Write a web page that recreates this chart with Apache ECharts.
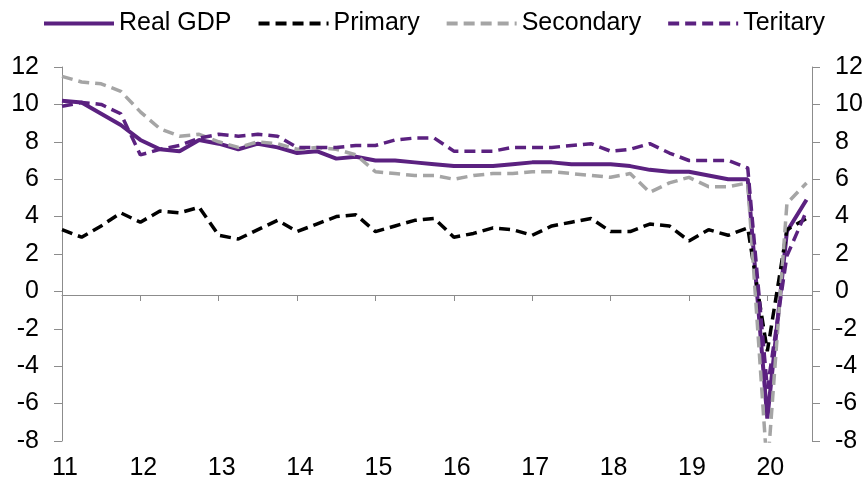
<!DOCTYPE html>
<html>
<head>
    <meta charset="utf-8">
    <title>Real GDP by sector</title>
    <script src="https://cdn.jsdelivr.net/npm/echarts/dist/echarts.min.js"></script>
    <style>
        html, body {
            margin: 0;
            padding: 0;
            background: #fff;
        }

        #chart {
            width: 867px;
            height: 486px;
        }
    </style>
</head>

<body>
<div id="chart"></div>

<script type="text/javascript">

    /* quarterly, 2011Q1 - 2020Q3, % y/y */
    var quarters = ['11Q1', '11Q2', '11Q3', '11Q4', '12Q1', '12Q2', '12Q3', '12Q4',
        '13Q1', '13Q2', '13Q3', '13Q4', '14Q1', '14Q2', '14Q3', '14Q4',
        '15Q1', '15Q2', '15Q3', '15Q4', '16Q1', '16Q2', '16Q3', '16Q4',
        '17Q1', '17Q2', '17Q3', '17Q4', '18Q1', '18Q2', '18Q3', '18Q4',
        '19Q1', '19Q2', '19Q3', '19Q4', '20Q1', '20Q2', '20Q3'];

    var yearLabels = ['11', '12', '13', '14', '15', '16', '17', '18', '19', '20'];

    var realGdp = [10.2, 10.1, 9.5, 8.9, 8.1, 7.6, 7.5, 8.1,
        7.9, 7.6, 7.9, 7.7, 7.4, 7.5, 7.1, 7.2,
        7.0, 7.0, 6.9, 6.8, 6.7, 6.7, 6.7, 6.8,
        6.9, 6.9, 6.8, 6.8, 6.8, 6.7, 6.5, 6.4,
        6.4, 6.2, 6.0, 6.0, -6.8, 3.2, 4.9];

    var primary = [3.3, 2.9, 3.5, 4.2, 3.7, 4.3, 4.2, 4.5,
        3.0, 2.8, 3.3, 3.8, 3.2, 3.6, 4.0, 4.1,
        3.2, 3.5, 3.8, 3.9, 2.9, 3.1, 3.4, 3.3,
        3.0, 3.5, 3.7, 3.9, 3.2, 3.2, 3.6, 3.5,
        2.7, 3.3, 3.0, 3.4, -3.2, 3.3, 3.9];

    var secondary = [11.5, 11.2, 11.1, 10.7, 9.6, 8.7, 8.3, 8.4,
        8.0, 7.7, 8.0, 7.9, 7.6, 7.7, 7.6, 7.3,
        6.4, 6.3, 6.2, 6.2, 6.0, 6.2, 6.3, 6.3,
        6.4, 6.4, 6.3, 6.2, 6.1, 6.3, 5.3, 5.8,
        6.1, 5.6, 5.6, 5.8, -9.6, 4.7, 5.8];

    var tertiary = [9.9, 10.1, 10.0, 9.5, 7.3, 7.6, 7.8, 8.2,
        8.4, 8.3, 8.4, 8.3, 7.7, 7.7, 7.7, 7.8,
        7.8, 8.1, 8.2, 8.2, 7.5, 7.5, 7.5, 7.7,
        7.7, 7.7, 7.8, 7.9, 7.5, 7.6, 7.9, 7.4,
        7.0, 7.0, 7.0, 6.6, -5.2, 1.9, 4.3];

    var yTicks = {min: -8, max: 12, step: 2};

    var purple = '#5b2180';
    var grey = '#a5a5a5';
    var axisGrey = '#8c8c8c';
    var font = '"Liberation Sans", Arial, sans-serif';

    // [quarter index, value] pairs for the value x axis
    function toPoints(values) {
        return values.map(function (v, i) {
            return [quarters.indexOf(quarters[i]), v];
        });
    }

    var xMax = 38.28;   // plot runs a little past 2020Q3

    var yAxisBase = {
        type: 'value',
        min: yTicks.min,
        max: yTicks.max,
        interval: yTicks.step,
        axisLine: {show: true, onZero: false, lineStyle: {color: axisGrey, width: 1}},
        axisTick: {show: true, length: 8, lineStyle: {color: axisGrey}},
        axisLabel: {fontSize: 25, color: '#000', margin: 23, fontFamily: font},
        splitLine: {show: false}
    };

    var myChart = echarts.init(document.getElementById('chart'));

    myChart.setOption({
        animation: false,
        backgroundColor: '#fff',
        textStyle: {fontFamily: font},
        grid: {
            left: 62,
            right: 55,
            top: 67,
            bottom: 45
        },
        legend: {
            left: 37,
            top: 6,
            itemWidth: 70,
            itemHeight: 14,
            itemGap: 25,
            itemStyle: {opacity: 0},   // line only, no marker
            lineStyle: {width: 4},
            textStyle: {fontSize: 25, color: '#000', fontFamily: font},
            data: ['Real GDP', 'Primary', 'Secondary', 'Teritary']
        },
        xAxis: [
            {
                // year labels along the bottom
                type: 'value',
                position: 'bottom',
                min: 0,
                max: xMax,
                interval: 4,
                axisLine: {show: false, onZero: false},
                axisTick: {show: false},
                splitLine: {show: false},
                axisLabel: {
                    fontSize: 25,
                    color: '#000',
                    margin: 15,
                    padding: [0, 0, 0, 6],
                    fontFamily: font,
                    formatter: function (v) {
                        var k = v / 4;
                        return k === Math.round(k) && yearLabels[k] ? yearLabels[k] : '';
                    }
                }
            },
            {
                // axis line with year ticks, sitting just under zero
                type: 'value',
                position: 'bottom',
                offset: -146,
                min: 0,
                max: xMax,
                interval: 4,
                axisLine: {show: true, onZero: false, lineStyle: {color: axisGrey, width: 1}},
                axisTick: {show: true, length: 6, lineStyle: {color: axisGrey}},
                axisLabel: {show: false},
                splitLine: {show: false}
            }
        ],
        yAxis: [
            Object.assign({}, yAxisBase, {position: 'left'}),
            Object.assign({}, yAxisBase, {position: 'right'})
        ],
        series: [
            {
                name: 'Real GDP',
                type: 'line',
                symbol: 'none',
                data: toPoints(realGdp),
                itemStyle: {color: purple},
                lineStyle: {color: purple, width: 4}
            },
            {
                name: 'Primary',
                type: 'line',
                symbol: 'none',
                data: toPoints(primary),
                itemStyle: {color: '#000'},
                lineStyle: {color: '#000', width: 3.5, type: [11, 6]}
            },
            {
                name: 'Secondary',
                type: 'line',
                symbol: 'none',
                data: toPoints(secondary),
                itemStyle: {color: grey},
                lineStyle: {color: grey, width: 3.5, type: [11, 6]}
            },
            {
                name: 'Teritary',
                type: 'line',
                symbol: 'none',
                data: toPoints(tertiary),
                itemStyle: {color: purple},
                lineStyle: {color: purple, width: 3.5, type: [11, 6]}
            }
        ]
    });

</script>
</body>
</html>
